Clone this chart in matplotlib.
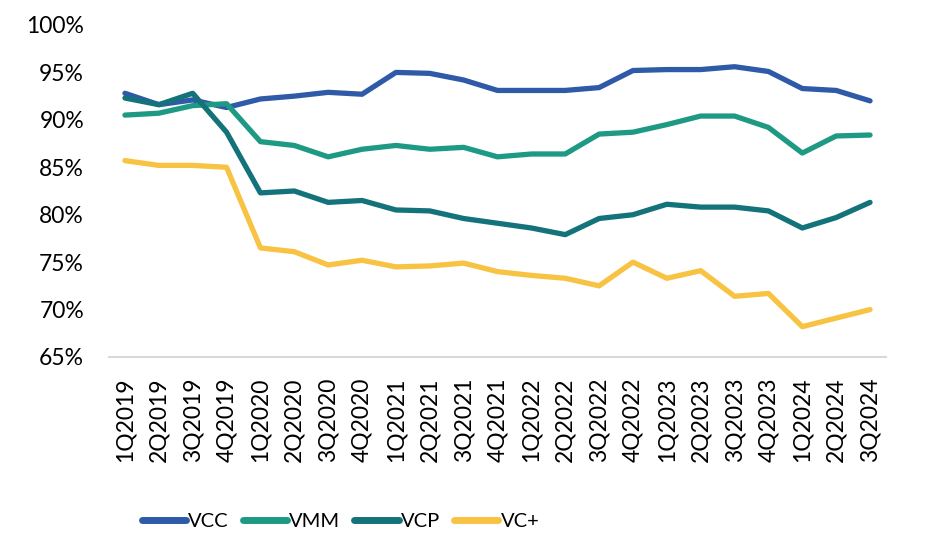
import matplotlib
matplotlib.use("Agg")
import matplotlib.pyplot as plt
from matplotlib.ticker import FuncFormatter

# quarters on the x axis
quarters = [
    "1Q2019", "2Q2019", "3Q2019", "4Q2019",
    "1Q2020", "2Q2020", "3Q2020", "4Q2020",
    "1Q2021", "2Q2021", "3Q2021", "4Q2021",
    "1Q2022", "2Q2022", "3Q2022", "4Q2022",
    "1Q2023", "2Q2023", "3Q2023", "4Q2023",
    "1Q2024", "2Q2024", "3Q2024",
]

# values (%)
vcc = [92.8, 91.6, 92.1, 91.3, 92.2, 92.5, 92.9, 92.7, 95.0, 94.9, 94.2, 93.1,
       93.1, 93.1, 93.4, 95.2, 95.3, 95.3, 95.6, 95.1, 93.3, 93.1, 92.0]
vmm = [90.5, 90.7, 91.5, 91.7, 87.7, 87.3, 86.1, 86.9, 87.3, 86.9, 87.1, 86.1,
       86.4, 86.4, 88.5, 88.7, 89.5, 90.4, 90.4, 89.2, 86.5, 88.3, 88.4]
vcp = [92.3, 91.6, 92.8, 88.7, 82.3, 82.5, 81.3, 81.5, 80.5, 80.4, 79.6, 79.1,
       78.6, 77.9, 79.6, 80.0, 81.1, 80.8, 80.8, 80.4, 78.6, 79.7, 81.3]
vc_plus = [85.7, 85.2, 85.2, 85.0, 76.5, 76.1, 74.7, 75.2, 74.5, 74.6, 74.9, 74.0,
           73.6, 73.3, 72.5, 75.0, 73.3, 74.1, 71.4, 71.7, 68.2, 69.1, 70.0]

series_names = ["VCC", "VMM", "VCP", "VC+"]
series_values = [vcc, vmm, vcp, vc_plus]
colors = ["#2E5AA8", "#1E9A84", "#14737A", "#F8C242"]

plt.rcParams["font.family"] = ["Lato", "DejaVu Sans"]

fig = plt.figure(figsize=(9.28, 5.54), dpi=100)
ax = fig.add_axes([0.1175, 0.3556, 0.8372, 0.5993])

x = range(len(quarters))
for name, vals, c in zip(series_names, series_values, colors):
    ax.plot(x, [v / 100 for v in vals], color=c, linewidth=3.8,
            solid_capstyle="round", solid_joinstyle="round", label=name)

ax.set_xlim(-0.47, len(quarters) - 0.53)
ax.set_ylim(0.65, 1.0)
ax.set_yticks([0.65, 0.70, 0.75, 0.80, 0.85, 0.90, 0.95, 1.0])
ax.yaxis.set_major_formatter(FuncFormatter(lambda v, p: f"{v * 100:.0f}%"))
ax.set_xticks(list(x))
ax.set_xticklabels(quarters, rotation=90)

for side in ["top", "right", "left"]:
    ax.spines[side].set_visible(False)
ax.spines["bottom"].set_color("#D9D9D9")
ax.spines["bottom"].set_linewidth(1.5)
ax.tick_params(axis="both", length=0, labelsize=16.5, colors="#000000")
ax.tick_params(axis="y", pad=18)
ax.tick_params(axis="x", pad=15)

leg = fig.legend(loc="center", bbox_to_anchor=(0.367, 0.058), ncol=4, frameon=False,
                 fontsize=14.5, handlelength=2.2, handletextpad=0.1, columnspacing=0.7)
for line in leg.get_lines():
    line.set_linewidth(5)

fig.savefig("out.png", dpi=100)
